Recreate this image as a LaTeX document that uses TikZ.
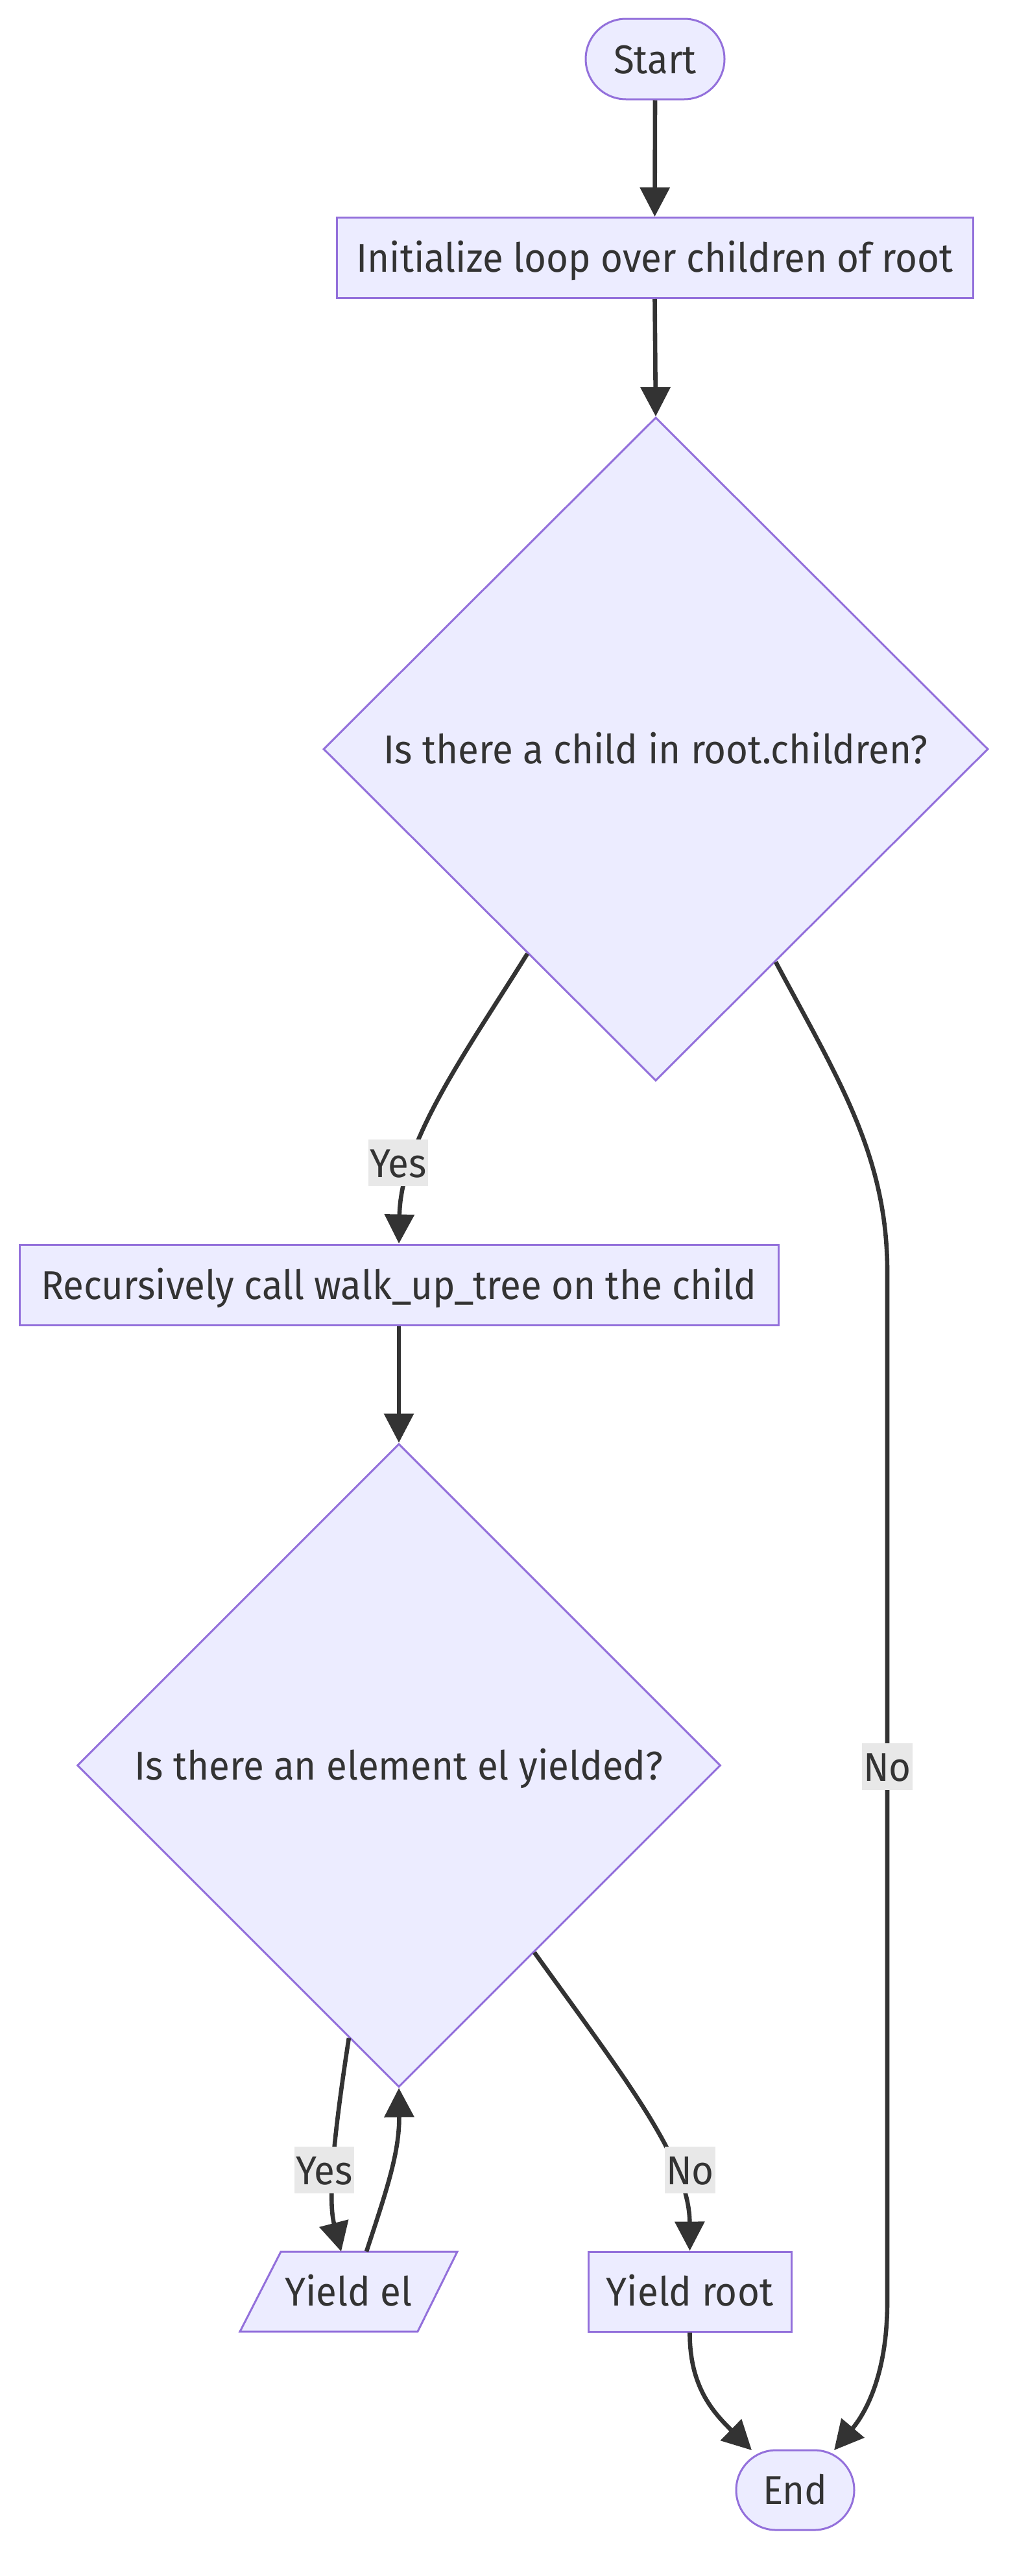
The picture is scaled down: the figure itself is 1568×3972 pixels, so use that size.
\documentclass[tikz,border=0pt]{standalone}
\usepackage{fontspec}
\setmainfont[FakeStretch=0.94]{Fira Sans}
\usetikzlibrary{shapes.geometric,shapes.misc,arrows.meta,calc}
\definecolor{nodefill}{HTML}{ECECFF}
\definecolor{nodeline}{HTML}{9370DB}
\definecolor{edgecol}{HTML}{333333}
\definecolor{labelbg}{HTML}{E8E8E8}
\begin{document}
\begin{tikzpicture}[x=0.5pt,y=-0.5pt,
  txt/.style={text=edgecol,font=\fontsize{31}{36}\selectfont,text height=29pt,text depth=7pt},
  base/.style={txt,fill=nodefill,draw=nodeline,line width=1.5pt,inner sep=0pt},
  stadium/.style={base,rounded rectangle,minimum width=107pt,minimum height=62pt},
  procbox/.style={base,rectangle,minimum height=62pt},
  decision/.style={base,diamond,aspect=1},
  elabel/.style={txt,fill=labelbg,inner xsep=1pt,inner ysep=0pt,minimum height=33.5pt},
  flow/.style={draw=edgecol,line width=3.3pt,-{Triangle[length=22.5pt,width=22.5pt]}},
]
\useasboundingbox (0,0) rectangle (1568,3972);

% nodes
\node[stadium] (start) at (1010,91) {Start};
\node[procbox,minimum width=490.5pt] (init) at (1009.5,397.5) {Initialize loop over children of root};
\node[decision,minimum width=512.5pt,minimum height=511.5pt] (D1) at (1011,1155) {Is there a child in root.children?};
\node[procbox,minimum width=585pt] (rec) at (615,1981) {Recursively call walk\_up\_tree on the child};
\node[decision,minimum width=496pt,minimum height=496pt] (D2) at (615,2722) {Is there an element el yielded?};
\filldraw[fill=nodefill,draw=nodeline,line width=1.5pt] (370,3595) -- (433,3472) -- (705,3472) -- (644,3595) -- cycle;
\node[txt,inner sep=0pt,minimum width=167.5pt,minimum height=61.5pt] (YE) at (537.5,3533.5) {Yield el};
\node[procbox,minimum width=156.5pt,minimum height=61.5pt] (YR) at (1063.5,3533.5) {Yield root};
\node[stadium,minimum width=91pt,minimum height=61.5pt] (End) at (1226,3839.5) {End};

% edges
\draw[flow] (start.south) -- (init.north);
\draw[flow] (init.south) -- (D1.north);
\draw[flow] ($(D1.south)!0.385!(D1.west)$) .. controls (720,1620) and (618,1760) .. (rec.north);
\draw[flow] ($(D1.south)!0.36!(D1.east)$) .. controls (1290,1660) and (1368,1780) .. (1368,1960)
   -- (1368,3550) .. controls (1368,3660) and (1335,3720) .. ($(End.center)+(60,-61.5)$);
\draw[flow] (rec.south) -- (D2.north);
\draw[flow] ($(D2.south)!0.155!(D2.west)$) .. controls (515,3290) and (505,3390) .. ($(YE.north)+(-11.5,0)$);
\draw[flow] ($(YE.north)+(27.5,0)$) .. controls (595,3380) and (616,3320) .. (D2.south);
\draw[flow] ($(D2.south)!0.42!(D2.east)$) .. controls (960,3200) and (1063,3330) .. (YR.north);
\draw[flow] (YR.south) .. controls (1063,3680) and (1100,3720) .. ($(End.center)+(-67,-61.5)$);

% edge labels
\node[elabel] (l1) at (614,1793) {Yes};
\node[elabel] (l2) at (1368,2724) {No};
\node[elabel] (l3) at (500,3346) {Yes};
\node[elabel] (l4) at (1064,3346) {No};
\end{tikzpicture}
\end{document}
